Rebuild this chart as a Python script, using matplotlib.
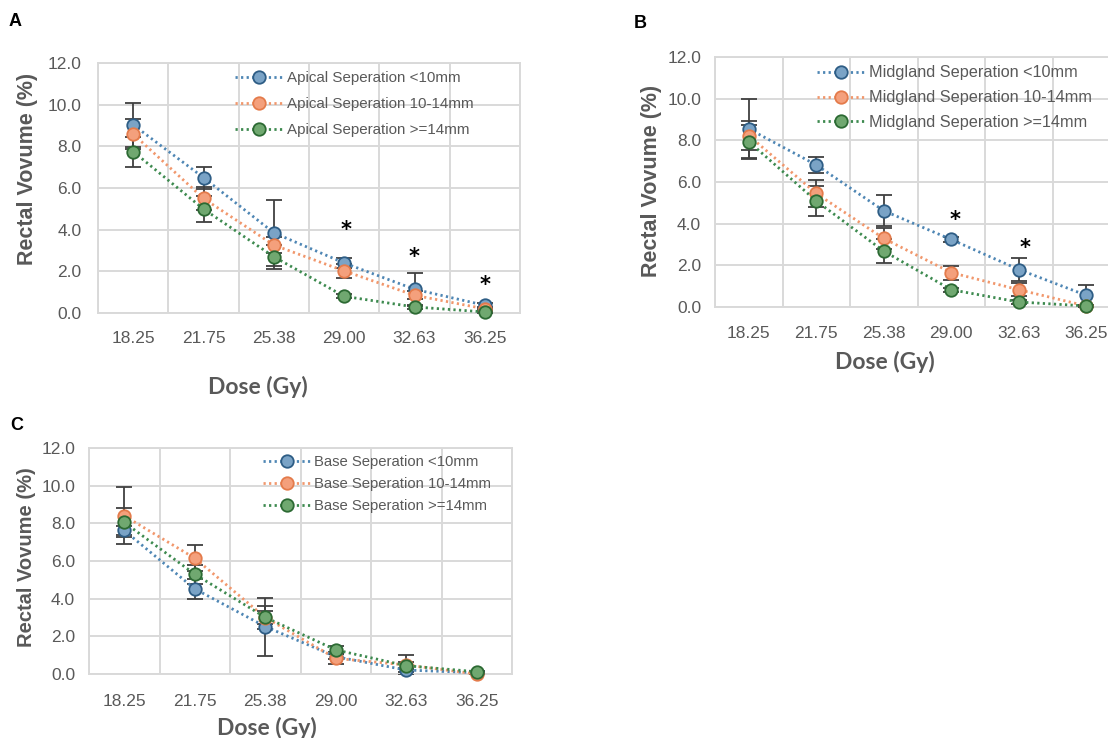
import numpy as np
import matplotlib
matplotlib.use("Agg")
import matplotlib.pyplot as plt

# ---------------- data ----------------
doses = ["18.25", "21.75", "25.38", "29.00", "32.63", "36.25"]

a_labels = ["Apical Seperation <10mm", "Apical Seperation 10-14mm", "Apical Seperation >=14mm"]
a_lt10 = [9.03, 6.50, 3.85, 2.40, 1.14, 0.37]
a_10_14 = [8.59, 5.50, 3.26, 2.02, 0.85, 0.20]
a_ge14 = [7.75, 4.99, 2.70, 0.80, 0.29, 0.05]
a_err_lt10 = [1.07, 0.53, 1.57, 0.26, 0.80, 0.10]
a_err_10_14 = [0.72, 0.55, 0.40, 0.32, 0.20, 0.05]
a_err_ge14 = [0.72, 0.64, 0.57, 0.10, 0.08, 0.03]
a_sig_idx = [3, 4, 5]
a_sig_y = [3.98, 2.70, 1.33]

b_labels = ["Midgland Seperation <10mm", "Midgland Seperation 10-14mm", "Midgland Seperation >=14mm"]
b_lt10 = [8.55, 6.82, 4.62, 3.24, 1.80, 0.56]
b_10_14 = [8.23, 5.45, 3.29, 1.65, 0.83, 0.05]
b_ge14 = [7.94, 5.09, 2.68, 0.83, 0.24, 0.05]
b_err_lt10 = [1.45, 0.40, 0.75, 0.13, 0.57, 0.51]
b_err_10_14 = [0.71, 0.65, 0.50, 0.33, 0.30, 0.05]
b_err_ge14 = [0.80, 0.71, 0.56, 0.10, 0.10, 0.03]
b_sig_idx = [3, 4]
b_sig_y = [4.20, 2.84]

c_labels = ["Base Seperation <10mm", "Base Seperation 10-14mm", "Base Seperation >=14mm"]
c_lt10 = [7.62, 4.52, 2.52, 0.92, 0.21, 0.07]
c_10_14 = [8.40, 6.15, 3.00, 0.83, 0.48, 0.00]
c_ge14 = [8.05, 5.30, 3.01, 1.28, 0.44, 0.12]
c_err_lt10 = [0.22, 0.55, 1.54, 0.15, 0.10, 0.03]
c_err_10_14 = [1.51, 0.68, 0.60, 0.32, 0.53, 0.03]
c_err_ge14 = [0.76, 0.50, 0.35, 0.20, 0.20, 0.03]

yticks = [0, 2, 4, 6, 8, 10, 12]

# ---------------- style ----------------
fill_cols = ["#7aa3c6", "#f4a07c", "#70a870"]
edge_cols = ["#2e5d85", "#e47b4b", "#2c6a33"]
line_cols = ["#4e86b4", "#f1976c", "#3d8a4f"]
grid_col = "#d9d9d9"
txt_col = "#595959"
SANS = ["Liberation Sans", "DejaVu Sans"]
XLAB = ["Lato", "Liberation Sans", "DejaVu Sans"]

W, H = 1108, 738
fig = plt.figure(figsize=(W / 100, H / 100), dpi=100)


def px_axes(l, t, r, b):
    return [l / W, 1 - b / H, (r - l) / W, (b - t) / H]


def panel(ax, series, errs, labels, leg_anchor, leg_fs, leg_ls, leg_hl,
          ytick_pad, xtick_pad, ylab_xy, xlab_xy, ylab_fs,
          sig_idx=None, sig_y=None, sig_dx=None):
    x = np.arange(len(doses))
    for i, (s, e) in enumerate(zip(series, errs)):
        ax.errorbar(x, s, yerr=e, fmt="none", ecolor="#404040", elinewidth=1.3,
                    capsize=6, capthick=1.3, zorder=3)
    for i, s in enumerate(series):
        ax.plot(x, s, linestyle=(0, (0.8, 1.2)), color=line_cols[i], linewidth=2.0,
                marker="o", markersize=9, markerfacecolor=fill_cols[i],
                markeredgecolor=edge_cols[i], markeredgewidth=1.3,
                label=labels[i], zorder=4 + i, clip_on=False)
    ax.set_xlim(-0.5, len(doses) - 0.5)
    ax.set_ylim(0, 12)
    ax.set_xticks(x)
    ax.set_xticklabels(doses)
    ax.set_xticks(np.arange(-0.5, len(doses), 1.0), minor=True)
    ax.set_yticks(yticks)
    ax.set_yticklabels([f"{v:.1f}" for v in yticks])
    ax.tick_params(axis="both", which="both", length=0, labelcolor=txt_col,
                   labelsize=12.5)
    ax.tick_params(axis="y", pad=ytick_pad)
    ax.tick_params(axis="x", pad=xtick_pad)
    for lab in ax.get_xticklabels() + ax.get_yticklabels():
        lab.set_fontfamily(SANS)
    ax.grid(which="minor", axis="x", color=grid_col, linewidth=1.4)
    ax.grid(which="major", axis="y", color=grid_col, linewidth=1.4)
    ax.grid(which="major", axis="x", visible=False)
    ax.set_axisbelow(True)
    for sp in ax.spines.values():
        sp.set_color(grid_col)
        sp.set_linewidth(1.4)
    ax.set_ylabel("Rectal Vovume (%)", fontsize=ylab_fs, fontweight="bold",
                  color=txt_col, family=SANS, va="center")
    ax.yaxis.set_label_coords(*ylab_xy)
    ax.set_xlabel("Dose (Gy)", fontsize=16.5, fontweight="bold", color=txt_col,
                  family=XLAB, va="center")
    ax.xaxis.set_label_coords(*xlab_xy)
    leg = ax.legend(loc="upper left", bbox_to_anchor=leg_anchor, frameon=False,
                    handlelength=leg_hl, handletextpad=0.25,
                    labelspacing=leg_ls, borderpad=0, borderaxespad=0, numpoints=1,
                    prop={"family": SANS, "size": leg_fs})
    for t in leg.get_texts():
        t.set_color(txt_col)
    if sig_idx is not None:
        for k, (i, yv) in enumerate(zip(sig_idx, sig_y)):
            dx = sig_dx[k] if sig_dx else 0
            ax.text(i + dx, yv, "*", ha="center", va="center", fontsize=15,
                    fontweight="bold", color="black", zorder=10)


axA = fig.add_axes(px_axes(98, 63, 520, 313))
panel(axA, [a_lt10, a_10_14, a_ge14], [a_err_lt10, a_err_10_14, a_err_ge14],
      a_labels, (0.325, 0.968), 10.9, 0.79, 3.15, 12, 13,
      (-0.166, 0.576), (0.38, -0.296), 15.5,
      a_sig_idx, a_sig_y, [0.02, 0.0, 0.0])

axB = fig.add_axes(px_axes(715, 57, 1120, 307))
panel(axB, [b_lt10, b_10_14, b_ge14], [b_err_lt10, b_err_10_14, b_err_ge14],
      b_labels, (0.252, 0.966), 11.7, 0.6, 2.95, 10, 14,
      (-0.156, 0.504), (0.42, -0.22), 15.5,
      b_sig_idx, b_sig_y, [0.05, 0.09])

axC = fig.add_axes(px_axes(89, 448, 512, 674))
panel(axC, [c_lt10, c_10_14, c_ge14], [c_err_lt10, c_err_10_14, c_err_ge14],
      c_labels, (0.411, 0.969), 10.7, 0.54, 3.2, 10, 14.5,
      (-0.147, 0.518), (0.42, -0.239), 14.5)

for lab, (px, py) in zip(["A", "B", "C"], [(15, 22), (640, 23), (17, 425)]):
    fig.text(px / W, 1 - py / H, lab, fontsize=13, fontweight="bold", color="black",
             ha="center", va="center", family=SANS)

fig.savefig("out.png", dpi=100, facecolor="white")
